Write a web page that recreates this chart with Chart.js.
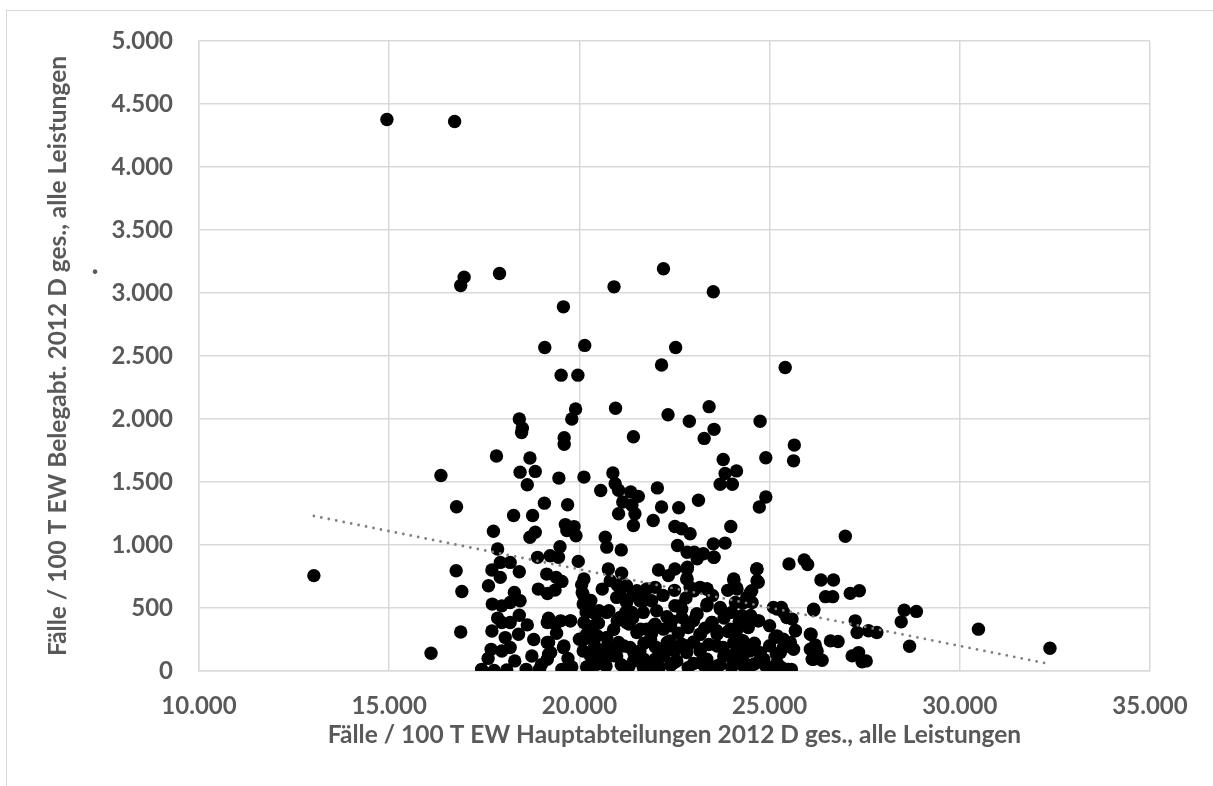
<!DOCTYPE html>
<html>
<head>
<meta charset="utf-8">
<script src="https://cdn.jsdelivr.net/npm/chart.js@4"></script>
<style>
  html, body { margin: 0; padding: 0; background: #ffffff; overflow: hidden; }
  #frame { position: absolute; left: 6px; top: 10px; width: 1400px; height: 1000px;
           border-left: 1.5px solid #d9d9d9; border-top: 1.5px solid #d9d9d9; }
  #c { position: absolute; left: 0; top: 0; }
</style>
</head>
<body>
<div id="frame"></div>
<canvas id="c" width="1213" height="786"></canvas>
<script>
// ---- data ----
const xTitle = 'Fälle / 100 T EW Hauptabteilungen 2012 D ges., alle Leistungen';
const yTitle = 'Fälle / 100 T EW Belegabt. 2012 D ges., alle Leistungen';
const xTickValues = [10000, 15000, 20000, 25000, 30000, 35000];
const xTickLabels = ['10.000', '15.000', '20.000', '25.000', '30.000', '35.000'];
const yTickValues = [0, 500, 1000, 1500, 2000, 2500, 3000, 3500, 4000, 4500, 5000];
const yTickLabels = ['0', '500', '1.000', '1.500', '2.000', '2.500', '3.000', '3.500', '4.000', '4.500', '5.000'];

// trend line end points
const trendX = [13020, 32370];
const trendY = [1230, 55];

// scatter points [x, y]
const points = [
  [14940,4377],[16720,4361],[13020,757],[32370,181],
  [16970,3126],[16880,3060],[17900,3155],[20910,3049],[19580,2890],[19090,2568],[20140,2584],[19520,2348],
  [19960,2348],[19900,2080],[19800,2000],[20950,2085],[18420,2000],[18500,1926],
  [22210,3193],[23520,3010],[22530,2568],[22160,2428],[25410,2409],[23410,2098],[22330,2034],[22890,1982],
  [24750,1982],[23540,1918],
  [18480,1892],[19600,1852],[19600,1799],[17820,1706],[18700,1690],[16360,1552],[18440,1578],[18840,1584],
  [18630,1478],[19460,1531],[20120,1539],[20560,1433],[16770,1303],[19080,1332],[19690,1319],[18270,1234],
  [18770,1234],[17740,1109],[19630,1162],[19860,1146],[19670,1114],[19910,1074],[18700,1061],[18840,1101],
  [17850,968],[19490,987],[17700,801],[17920,862],[18180,862],[17920,743],[18420,788],[17610,676],
  [18900,902],[19230,915],[19450,902],[19970,870],[16760,796],[16910,631],[19140,769],[19390,743],
  [19540,711],[18920,650],[19160,615],[19360,642],[18290,623],[18440,557],[17710,531],[17960,517],
  [18180,544],[20060,684],[20100,605],[20100,531],[20180,464],[20410,456],[19760,398],[19190,419],
  [19360,371],[18420,443],[18630,366],[18400,292],[18180,385],[17700,318],[17960,385],[18050,265],
  [17680,172],[17960,159],[18180,186],[16880,310],[16100,141],[18750,119],[19190,226],[19190,133],
  [19580,186],[17430,13],[17760,5],[18090,8],[18600,13],[18950,13],[19540,13],[19800,32],
  [20000,252],[20190,292],[20410,265],[20100,159],[20320,119],[20540,159],[20460,53],[20190,32],
  [21420,1859],[23280,1846],[23780,1679],[24900,1692],[20880,1572],[23830,1567],[24130,1588],[23700,1482],
  [24020,1482],[20940,1487],[21030,1434],[21350,1421],[21550,1386],[22050,1453],[21140,1341],[21380,1315],
  [21030,1248],[21460,1248],[21420,1155],[21940,1195],[22160,1301],[22610,1296],[23130,1355],[24900,1381],
  [24730,1301],[23980,1147],[22510,1147],[22690,1129],[22910,1089],[22580,996],[23020,943],[23260,930],
  [23540,903],[23520,1009],[23830,1015],[20680,1062],[20720,983],[21100,961],[25510,850],[20760,810],
  [21110,776],[22080,802],[22340,757],[22510,810],[22840,823],[22820,730],[22910,664],[23170,664],
  [23350,651],[24060,722],[24120,664],[24660,810],[24700,704],[24530,637],[24400,584],[20810,717],
  [21240,677],[21510,637],[21770,651],[21990,664],[20980,584],[21240,544],[21590,558],[21900,558],
  [20720,465],[21070,425],[21380,465],[21680,465],[22030,478],[22510,518],[22690,491],[23080,452],
  [23350,518],[23700,505],[24000,465],[24270,438],[25100,505],[25310,505],[25450,425],[24700,398],
  [24440,345],[23480,385],[21240,385],[21510,305],[21770,332],[21990,372],[22210,332],[22430,398],
  [22690,425],[22860,345],[23170,292],[23610,319],[23910,313],[24130,319],[20720,266],[21030,226],
  [20720,133],[20980,120],[21330,186],[21590,159],[21420,80],[21680,27],[21990,93],[22210,159],
  [22380,239],[22690,213],[22820,146],[22560,80],[22860,27],[23170,159],[23350,93],[23520,27],
  [23780,186],[23960,120],[24130,159],[24310,80],[24480,159],[24750,93],[25010,27],[25180,133],
  [25360,186],[25490,13],[25140,266],[25360,252],
  [25650,1793],[25630,1668],[26990,1070],[25910,882],[26000,845],[26350,722],[26680,722],[26470,590],
  [26660,590],[27120,616],[27360,637],[26160,483],[28540,483],[28860,473],[28460,390],[28680,197],
  [30490,332],[25590,412],[25680,319],[25630,173],[26090,292],[26200,207],[26250,159],[26120,93],
  [26380,85],[26600,239],[26800,234],[27250,398],[27300,305],[27600,319],[27820,305],[27170,120],
  [27340,146],[27430,74],[27540,80],[25570,13],
  [20119,730],[20075,624],[20250,491],[20513,478],[20775,478],[20119,385],[20381,359],[21082,598],
  [21213,465],[20994,398],[21301,372],[20119,252],[20469,279],[20732,199],[20294,120],[20557,93],
  [20907,120],[21169,199],[21432,146],[21694,93],[21957,40],[22220,120],[22482,66],[22307,226],
  [21870,252],[21607,332],[21957,359],[22394,359],[19156,385],[19506,398],[19769,398],[19156,226],
  [19244,146],[19594,199],[19156,93],
  [22832,359],[23095,452],[23489,385],[23182,292],[23620,292],[23970,332],[24408,359],[24714,398],
  [22832,199],[23182,173],[23620,199],[24057,226],[24408,199],[24758,146],[25195,279],[25545,226],
  [25283,146],[23182,66],[23620,40],[24057,66],[24495,40],[24846,93],[25195,66],[25458,13],
  [23795,120],[24232,146],
  [22832,943],[23095,890],[23532,903],[22832,810],[22832,730],[23007,637],[23357,651],[24057,730],
  [24145,651],[24670,810],[24670,717],[24495,624],[24539,544],[24101,544],[23707,491],[23357,531],
  [22657,518],[25195,491],[25370,465],[25677,319],[26071,292],[26158,491],[26071,173],[26158,93],
  [20300,45],[20700,40],[21100,50],[21300,35],[21900,55],[22100,30],[22400,45],[23000,60],
  [23300,35],[23700,50],[24000,30],[24300,45],[24600,55],[24900,40],[25300,30],
  [20400,200],[20900,170],[21700,220],[22000,190],[22500,160],[23000,230],[23400,210],[24300,240],
  [24600,220],[25000,200],
  [20500,380],[20900,330],[21400,420],[21900,300],[22300,430],[22600,300],[23000,400],[23300,340],
  [23800,420],[24200,390],[24500,440],[25000,360],
  [20300,560],[20600,650],[21000,680],[21400,600],[21700,560],[22200,600],[22500,640],[22800,580],
  [23500,600],[23900,640],[24300,540],
  [17600,100],[17850,420],[18300,80],[18800,250],[19000,50],[19400,300],[19700,100]
];

// ---- styles ----
const FONT = 'Lato';
const TEXT = '#595959';
const GRID = '#d9d9d9';
const FS = 24;
const TITLE_FS = 24.5;

const strayDot = {
  id: 'strayDot',
  afterDraw(chart) {
    const c = chart.ctx;
    c.save();
    c.fillStyle = TEXT;
    c.font = 'bold ' + FS + 'px ' + FONT;
    c.textAlign = 'center';
    c.textBaseline = 'middle';
    c.fillText('·', 95, 271);
    c.restore();
  }
};

new Chart(document.getElementById('c'), {
  type: 'scatter',
  data: {
    datasets: [
      {
        label: 'Trend',
        data: trendX.map((x, i) => ({ x: x, y: trendY[i] })),
        showLine: true,
        borderColor: '#808080',
        borderWidth: 2.8,
        borderDash: [0, 7.6],
        borderCapStyle: 'round',
        pointRadius: 0,
        fill: false,
        order: 0
      },
      {
        label: 'Fälle',
        data: points.map(p => ({ x: p[0], y: p[1] })),
        pointRadius: 6.7,
        pointBackgroundColor: '#000000',
        pointBorderColor: '#000000',
        pointBorderWidth: 0,
        order: 1
      }
    ]
  },
  options: {
    responsive: false,
    animation: false,
    events: [],
    layout: { padding: { left: 0, right: 63, top: 41, bottom: 0 } },
    plugins: { legend: { display: false }, tooltip: { enabled: false } },
    scales: {
      x: {
        type: 'linear',
        min: 10000, max: 35000,
        afterBuildTicks(s) { s.ticks = xTickValues.map(v => ({ value: v })); },
        afterFit(s) { s.height = 115; },
        ticks: {
          padding: 21,
          color: TEXT,
          font: { family: FONT, weight: 'bold', size: FS },
          maxRotation: 0,
          callback: (v) => xTickLabels[xTickValues.indexOf(v)]
        },
        grid: { color: GRID, lineWidth: 1.5, drawTicks: false },
        border: { color: GRID, width: 1.5 },
        title: {
          display: true, text: xTitle, color: TEXT,
          font: { family: FONT, weight: 'bold', size: TITLE_FS },
          padding: { top: 0, bottom: 36 }
        }
      },
      y: {
        type: 'linear',
        min: 0, max: 5000,
        afterBuildTicks(s) { s.ticks = yTickValues.map(v => ({ value: v })); },
        afterFit(s) { s.width = 199; },
        ticks: {
          padding: 26,
          color: TEXT,
          font: { family: FONT, weight: 'bold', size: FS },
          callback: (v) => yTickLabels[yTickValues.indexOf(v)]
        },
        grid: { color: GRID, lineWidth: 1.5, drawTicks: false },
        border: { color: GRID, width: 1.5 },
        title: {
          display: true, text: yTitle, color: TEXT,
          font: { family: FONT, weight: 'bold', size: TITLE_FS },
          padding: { top: 43, bottom: 0 }
        }
      }
    }
  },
  plugins: [strayDot]
});
</script>
</body>
</html>
